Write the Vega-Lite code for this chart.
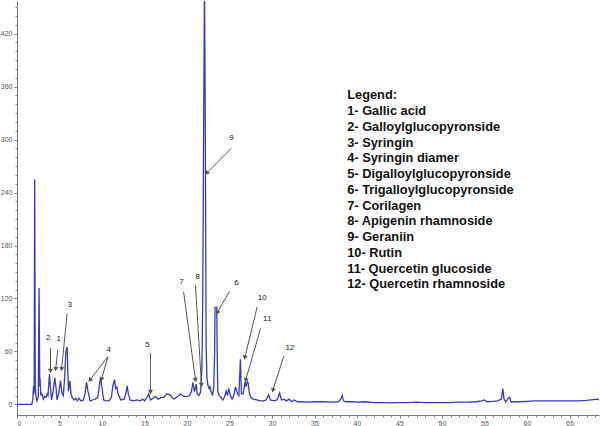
{
  "$schema": "https://vega.github.io/schema/vega-lite/v6.json",
  "width": 582,
  "height": 414,
  "autosize": {"type": "none"},
  "padding": {"left": 17, "top": 1, "right": 1, "bottom": 11},
  "background": "white",
  "config": {"view": {"stroke": null}, "font": "Liberation Sans"},
  "datasets": {
    "trace": [
      {"t":0,"v":0},{"t":1.75,"v":0},{"t":1.85,"v":5},{"t":1.95,"v":21},{"t":2.02,"v":12},{"t":2.08,"v":255},{"t":2.15,"v":20},{"t":2.25,"v":8},{"t":2.35,"v":4},{"t":2.5,"v":8},{"t":2.6,"v":132},{"t":2.68,"v":20},{"t":2.72,"v":29},{"t":2.8,"v":10},{"t":2.9,"v":12},{"t":3.0,"v":10},{"t":3.1,"v":6},{"t":3.25,"v":9},{"t":3.4,"v":8},{"t":3.55,"v":12},{"t":3.65,"v":10},{"t":3.82,"v":34},{"t":3.95,"v":18},{"t":4.06,"v":5},{"t":4.25,"v":15},{"t":4.45,"v":30},{"t":4.6,"v":18},{"t":4.71,"v":5},{"t":4.9,"v":12},{"t":5.12,"v":27},{"t":5.3,"v":12},{"t":5.45,"v":10},{"t":5.6,"v":30},{"t":5.75,"v":60},{"t":5.9,"v":65},{"t":6.05,"v":15},{"t":6.22,"v":27},{"t":6.35,"v":12},{"t":6.5,"v":8},{"t":6.7,"v":5},{"t":6.9,"v":7},{"t":7.1,"v":4},{"t":7.3,"v":7},{"t":7.5,"v":4},{"t":7.8,"v":5},{"t":8.0,"v":12},{"t":8.18,"v":25},{"t":8.35,"v":15},{"t":8.6,"v":4},{"t":8.9,"v":5},{"t":9.2,"v":6},{"t":9.5,"v":8},{"t":9.82,"v":30},{"t":9.95,"v":22},{"t":10.2,"v":5},{"t":10.5,"v":4},{"t":10.8,"v":4},{"t":11.1,"v":8},{"t":11.3,"v":22},{"t":11.47,"v":28},{"t":11.6,"v":18},{"t":11.75,"v":20},{"t":11.9,"v":12},{"t":12.2,"v":5},{"t":12.6,"v":6},{"t":12.8,"v":12},{"t":12.96,"v":21},{"t":13.1,"v":12},{"t":13.3,"v":5},{"t":13.7,"v":4},{"t":14.1,"v":5},{"t":14.5,"v":4},{"t":14.8,"v":6},{"t":15.0,"v":4},{"t":15.3,"v":8},{"t":15.5,"v":12},{"t":15.7,"v":5},{"t":16.0,"v":7},{"t":16.3,"v":9},{"t":16.6,"v":6},{"t":17.0,"v":8},{"t":17.3,"v":8},{"t":17.6,"v":12},{"t":17.9,"v":11},{"t":18.1,"v":10},{"t":18.3,"v":7},{"t":18.5,"v":6},{"t":18.8,"v":8},{"t":19.2,"v":12},{"t":19.6,"v":9},{"t":20.0,"v":9},{"t":20.3,"v":10},{"t":20.5,"v":14},{"t":20.7,"v":25},{"t":20.85,"v":15},{"t":20.9,"v":15},{"t":21.08,"v":23},{"t":21.2,"v":12},{"t":21.4,"v":10},{"t":21.6,"v":14},{"t":21.75,"v":40},{"t":21.85,"v":116},{"t":21.95,"v":300},{"t":22.06,"v":480},{"t":22.16,"v":300},{"t":22.25,"v":65},{"t":22.35,"v":30},{"t":22.45,"v":22},{"t":22.6,"v":18},{"t":22.7,"v":20},{"t":22.85,"v":14},{"t":23.0,"v":10},{"t":23.15,"v":20},{"t":23.25,"v":60},{"t":23.3,"v":110},{"t":23.5,"v":110},{"t":23.55,"v":60},{"t":23.62,"v":15},{"t":23.8,"v":10},{"t":24.0,"v":8},{"t":24.2,"v":5},{"t":24.4,"v":8},{"t":24.6,"v":15},{"t":24.75,"v":10},{"t":24.9,"v":18},{"t":25.1,"v":10},{"t":25.3,"v":6},{"t":25.5,"v":10},{"t":25.7,"v":20},{"t":25.85,"v":15},{"t":25.95,"v":12},{"t":26.1,"v":10},{"t":26.28,"v":51},{"t":26.4,"v":12},{"t":26.6,"v":12},{"t":26.85,"v":26},{"t":26.95,"v":20},{"t":27.1,"v":26},{"t":27.2,"v":24},{"t":27.35,"v":12},{"t":27.5,"v":8},{"t":27.8,"v":6},{"t":28.2,"v":5},{"t":28.6,"v":4},{"t":29.0,"v":4},{"t":29.3,"v":5},{"t":29.6,"v":11},{"t":29.8,"v":5},{"t":30.2,"v":4},{"t":30.6,"v":5},{"t":30.9,"v":13},{"t":31.1,"v":5},{"t":31.4,"v":6},{"t":31.7,"v":4},{"t":32.0,"v":6},{"t":32.3,"v":3},{"t":32.6,"v":5},{"t":33.0,"v":3},{"t":33.5,"v":3},{"t":34,"v":2.5},{"t":35,"v":3},{"t":36,"v":3},{"t":37,"v":2.5},{"t":37.8,"v":3},{"t":38.1,"v":6},{"t":38.26,"v":10},{"t":38.4,"v":4},{"t":38.7,"v":3},{"t":39.5,"v":3},{"t":40,"v":2.5},{"t":41,"v":3},{"t":42,"v":2},{"t":43,"v":2},{"t":44,"v":1.8},{"t":45,"v":2},{"t":46,"v":2},{"t":47,"v":2.5},{"t":48,"v":2},{"t":49,"v":2},{"t":50,"v":2},{"t":51,"v":2},{"t":52,"v":2.5},{"t":53,"v":2.5},{"t":54,"v":3},{"t":54.7,"v":4},{"t":55,"v":5},{"t":55.3,"v":3},{"t":56,"v":3.5},{"t":56.5,"v":4},{"t":57.0,"v":6},{"t":57.15,"v":18},{"t":57.3,"v":6},{"t":57.5,"v":3},{"t":57.8,"v":7},{"t":57.95,"v":8},{"t":58.1,"v":3},{"t":58.5,"v":3},{"t":59,"v":3},{"t":60,"v":3.5},{"t":61,"v":4},{"t":62,"v":4},{"t":63,"v":4},{"t":64,"v":4},{"t":65,"v":4},{"t":66,"v":4},{"t":67,"v":4.5},{"t":67.8,"v":5.5},{"t":68.2,"v":6},{"t":68.47,"v":5}
    ],
    "labels": [
      {"n":"2","t":3.67,"v":75},{"n":"1","t":4.92,"v":73.6},{"n":"3","t":6.21,"v":112.5},{"n":"4","t":10.8,"v":61.5},{"n":"5","t":15.35,"v":67},{"n":"7","t":19.35,"v":139},{"n":"8","t":21.27,"v":144.5},{"n":"9","t":25.24,"v":302},{"n":"6","t":25.82,"v":137.7},{"n":"10","t":28.85,"v":120.7},{"n":"11","t":29.44,"v":96.3},{"n":"12","t":32.1,"v":64}
    ],
    "arrows": [
      {"n":"2","tx":3.94,"ty":64,"hx":3.94,"hy":38},
      {"n":"1","tx":4.8,"ty":62,"hx":4.55,"hy":40},
      {"n":"3","tx":5.9,"ty":103,"hx":5.25,"hy":40},
      {"n":"4a","tx":10.69,"ty":54,"hx":8.57,"hy":27.5},
      {"n":"4b","tx":10.69,"ty":54,"hx":9.94,"hy":28.3},
      {"n":"5","tx":15.7,"ty":58,"hx":15.7,"hy":14},
      {"n":"7","tx":19.6,"ty":127.5,"hx":21.0,"hy":27.5},
      {"n":"8","tx":21.0,"ty":135,"hx":21.7,"hy":22},
      {"n":"9","tx":25.2,"ty":290,"hx":22.3,"hy":262},
      {"n":"6","tx":25.0,"ty":128,"hx":23.55,"hy":104},
      {"n":"10","tx":28.26,"ty":110.5,"hx":26.8,"hy":53},
      {"n":"11","tx":28.65,"ty":86,"hx":26.9,"hy":27.5},
      {"n":"12","tx":31.4,"ty":55,"hx":30.1,"hy":16}
    ],
    "legend": [
      {"text":"Legend:\n1- Gallic acid\n2- Galloylglucopyronside\n3- Syringin\n4- Syringin diamer\n5- Digalloylglucopyronside\n6- Trigalloylglucopyronside\n7- Corilagen\n8- Apigenin rhamnoside\n9- Geraniin\n10- Rutin\n11- Quercetin glucoside\n12- Quercetin rhamnoside"}
    ]
  },
  "resolve": {"axis": {"x": "independent", "y": "independent"}},
  "layer": [
    {
      "data": {"name": "trace"},
      "mark": {"type": "line", "color": "#3a3ab8", "strokeWidth": 1.3, "clip": true},
      "encoding": {
        "x": {"field": "t", "type": "quantitative",
              "scale": {"domain": [0, 68.47], "nice": false, "zero": false},
              "axis": {"orient": "bottom", "values": [0,5,10,15,20,25,30,35,40,45,50,55,60,65], "title": null, "grid": false,
                       "labelFontSize": 7, "labelColor": "#555", "tickColor": "#777", "domainColor": "#777",
                       "tickSize": 3, "labelPadding": 1, "labelFont": "Liberation Sans"}},
        "y": {"field": "v", "type": "quantitative",
              "scale": {"domain": [-12, 457], "nice": false, "zero": false},
              "axis": {"orient": "left", "values": [0,60,120,180,240,300,360,420], "title": null, "grid": false,
                       "labelFontSize": 7, "labelColor": "#555", "tickColor": "#777", "domainColor": "#777",
                       "tickSize": 3, "labelPadding": 2, "labelFont": "Liberation Sans"}}
      }
    },
    {
      "data": {"name": "arrows"},
      "mark": {"type": "rule", "color": "#555", "strokeWidth": 1},
      "encoding": {
        "x": {"field": "tx", "type": "quantitative", "axis": null},
        "y": {"field": "ty", "type": "quantitative", "axis": null},
        "x2": {"field": "hx"},
        "y2": {"field": "hy"}
      }
    },
    {
      "data": {"name": "arrows"},
      "transform": [{"calculate": "atan2((datum.hx-datum.tx)*8.5,(datum.hy-datum.ty)*0.8827)*180/PI", "as": "ang"}],
      "mark": {"type": "point", "shape": "triangle-up", "filled": true, "color": "#555", "size": 26, "opacity": 1},
      "encoding": {
        "x": {"field": "hx", "type": "quantitative", "axis": null},
        "y": {"field": "hy", "type": "quantitative", "axis": null},
        "angle": {"field": "ang", "type": "quantitative", "scale": null}
      }
    },
    {
      "data": {"name": "labels"},
      "mark": {"type": "text", "fontSize": 8, "color": "#222", "font": "Liberation Sans"},
      "encoding": {
        "x": {"field": "t", "type": "quantitative",
              "axis": {"orient": "bottom", "values": [0,1,2,3,4,5,6,7,8,9,10,11,12,13,14,15,16,17,18,19,20,21,22,23,24,25,26,27,28,29,30,31,32,33,34,35,36,37,38,39,40,41,42,43,44,45,46,47,48,49,50,51,52,53,54,55,56,57,58,59,60,61,62,63,64,65,66,67,68],
                       "labels": false, "domain": false, "grid": false, "title": null, "tickSize": 2, "tickColor": "#888"}},
        "y": {"field": "v", "type": "quantitative",
              "axis": {"orient": "left", "values": [0,10,20,30,40,50,60,70,80,90,100,110,120,130,140,150,160,170,180,190,200,210,220,230,240,250,260,270,280,290,300,310,320,330,340,350,360,370,380,390,400,410,420,430,440,450],
                       "labels": false, "domain": false, "grid": false, "title": null, "tickSize": 2, "tickColor": "#888"}},
        "text": {"field": "n"}
      }
    },
    {
      "data": {"name": "legend"},
      "mark": {"type": "text", "fontSize": 12.8, "fontWeight": "bold", "color": "#111", "align": "left", "baseline": "top", "lineBreak": "\n", "lineHeight": 15.75, "font": "Liberation Sans"},
      "encoding": {
        "x": {"datum": 38.85, "type": "quantitative", "axis": null},
        "y": {"datum": 357, "type": "quantitative", "axis": null},
        "text": {"field": "text"}
      }
    }
  ]
}
